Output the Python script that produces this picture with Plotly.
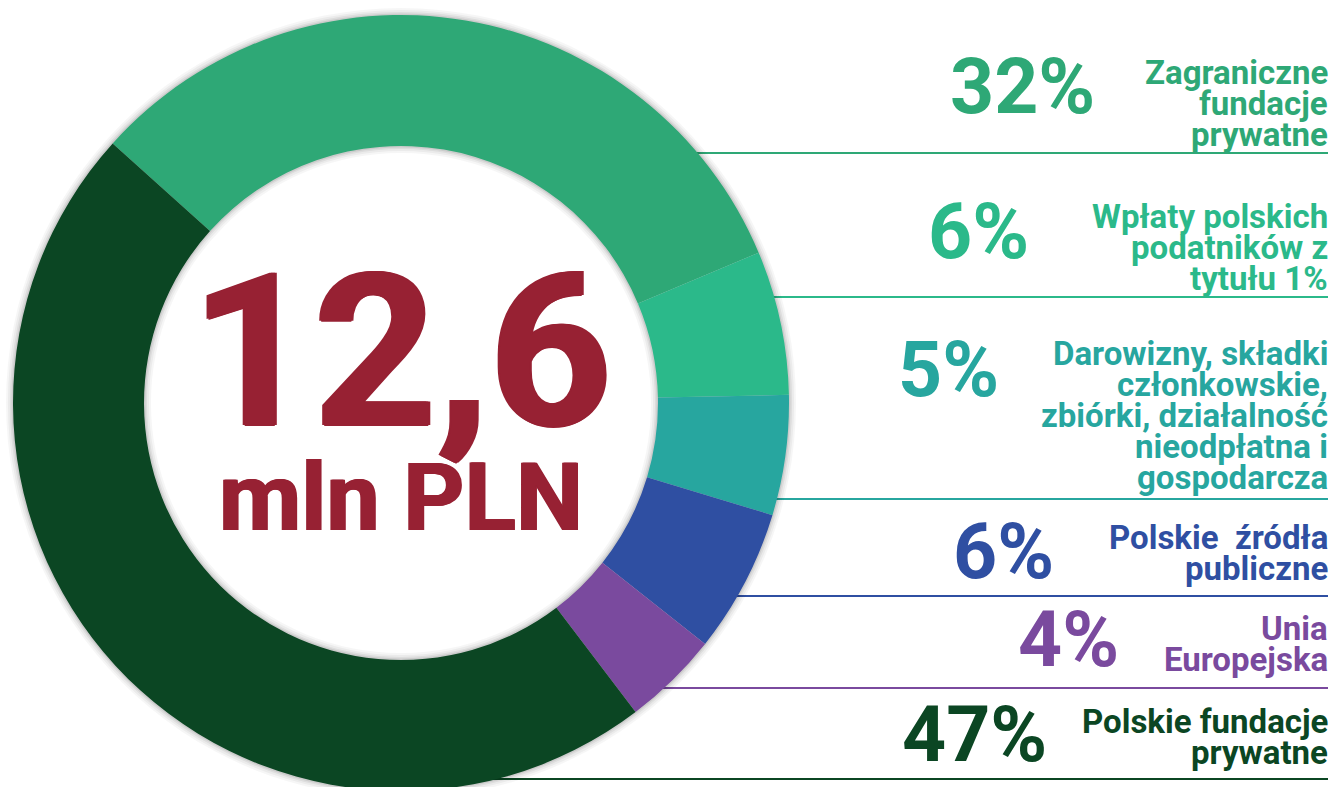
import math
import plotly.graph_objects as go

# ---------------- data ----------------
categories = [
    "Zagraniczne fundacje prywatne",
    "Wpłaty polskich podatników z tytułu 1%",
    "Darowizny, składki członkowskie, zbiórki, działalność nieodpłatna i gospodarcza",
    "Polskie źródła publiczne",
    "Unia Europejska",
    "Polskie fundacje prywatne",
]
shares = [32, 6, 5, 6, 4, 47]
label_lines = [
    ["Zagraniczne", "fundacje", "prywatne"],
    ["Wpłaty polskich", "podatników z", "tytułu 1%"],
    ["Darowizny, składki", "członkowskie,", "zbiórki, działalność", "nieodpłatna i", "gospodarcza"],
    ["Polskie  źródła", "publiczne"],
    ["Unia", "Europejska"],
    ["Polskie fundacje", "prywatne"],
]
colors = ["#2EA876", "#2BB98A", "#27A69F", "#2F4FA2", "#7A4A9E", "#0B4623"]
total_value = "12,6"
total_unit = "mln PLN"

# ---------------- layout constants (pixels) ----------------
W, H = 1331, 800          # page is clipped to 787 px, so the donut bottom is cut like the original
CX, CY, R = 401, 403, 388
R_IN = 257
FONT = "Roboto, 'Noto Sans', sans-serif"

pct_right = [1097, 1031, 1001, 1056, 1121, 1049]
pct_baseline = [115, 260, 398, 580, 668, 763]
lab_first_baseline = [84, 228, 365, 549, 640, 733]
lab_step = 31
sep_y = [153, 297, 499, 596, 688, 779]
LAB_RIGHT = 1330
LINE_RIGHT = 1328
PCT_SIZE = 77
LAB_SIZE = 33


def px(x):
    return x / W


def py(y):
    return 1 - y / H


def ring_domain(r):
    return dict(x=[px(CX - r), px(CX + r)], y=[py(CY + r), py(CY - r)])


fig = go.Figure()

# soft shadow around the ring
for k, a in [(7, 0.035), (5, 0.045), (3, 0.06), (1.5, 0.08)]:
    fig.add_trace(
        go.Pie(
            values=[1], hole=(R_IN - k) / (R + k), sort=False,
            marker=dict(colors=[f"rgba(0,0,0,{a})"], line=dict(width=0)),
            textinfo="none", hoverinfo="skip", showlegend=False,
            domain=ring_domain(R + k),
        )
    )

fig.add_trace(
    go.Pie(
        labels=categories,
        values=shares,
        hole=R_IN / R,
        sort=False,
        direction="clockwise",
        rotation=-48,
        marker=dict(colors=colors, line=dict(width=0)),
        textinfo="none",
        hoverinfo="label+percent",
        showlegend=False,
        domain=ring_domain(R),
    )
)

annotations = []
shapes = []
for i, cat in enumerate(categories):
    c = colors[i]
    annotations.append(
        dict(
            text=f"<b>{shares[i]}%</b>",
            x=px(pct_right[i]), y=py(pct_baseline[i] - 0.36 * PCT_SIZE),
            xref="paper", yref="paper", xanchor="right", yanchor="middle",
            showarrow=False, font=dict(family=FONT, size=PCT_SIZE, color=c),
        )
    )
    for j, line in enumerate(label_lines[i]):
        b = lab_first_baseline[i] + j * lab_step
        annotations.append(
            dict(
                text=f"<b>{line}</b>",
                x=px(LAB_RIGHT), y=py(b - 0.36 * LAB_SIZE),
                xref="paper", yref="paper", xanchor="right", yanchor="middle",
                showarrow=False, font=dict(family=FONT, size=LAB_SIZE, color=c),
            )
        )
    dy = abs(sep_y[i] - CY)
    x0 = CX + math.sqrt(max(R * R - dy * dy, 0)) - 25
    shapes.append(
        dict(
            type="line", xref="paper", yref="paper",
            x0=px(x0), x1=px(LINE_RIGHT), y0=py(sep_y[i]), y1=py(sep_y[i]),
            line=dict(color=c, width=2), layer="below",
        )
    )

center_color = "#972133"
thick = f"2px 0 0 {center_color}, -2px 0 0 {center_color}, 0 1px 0 {center_color}"
annotations.append(
    dict(
        text=f"<b>{total_value}</b>", x=px(CX), y=py(352),
        xref="paper", yref="paper", xanchor="center", yanchor="middle",
        showarrow=False,
        font=dict(family=FONT, size=214, color=center_color, weight=900, shadow=thick),
    )
)
annotations.append(
    dict(
        text=f"<b>{total_unit}</b>", x=px(CX), y=py(497),
        xref="paper", yref="paper", xanchor="center", yanchor="middle",
        showarrow=False,
        font=dict(family=FONT, size=95, color=center_color,
                  shadow=f"1px 0 0 {center_color}, -1px 0 0 {center_color}"),
    )
)

fig.update_layout(
    width=W, height=H,
    margin=dict(l=0, r=0, t=0, b=0),
    paper_bgcolor="white", plot_bgcolor="white",
    annotations=annotations, shapes=shapes,
)

fig.write_html(
    "out.html",
    config={"displayModeBar": False},
    post_script="document.body.style.margin='0';document.body.style.overflow='hidden';",
)
